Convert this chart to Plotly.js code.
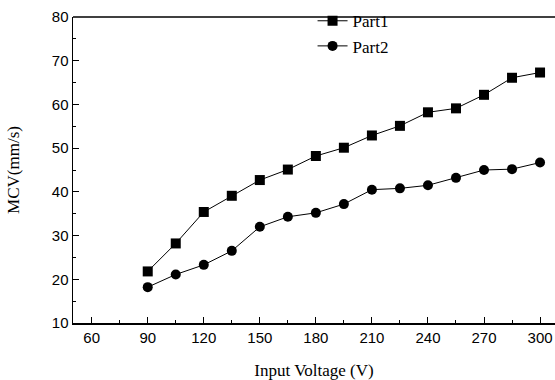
<!DOCTYPE html>
<html>
<head>
<meta charset="utf-8">
<script src="https://cdn.plot.ly/plotly-3.0.1.min.js"></script>
<style>html,body{margin:0;padding:0;background:#fff}#chart{width:555px;height:380px}</style>
</head>
<body>
<div id="chart"></div>
<script>
const voltage = [90,105,120,135,150,165,180,195,210,225,240,255,270,285,300];
const part1 = [21.8,28.2,35.4,39.1,42.7,45.1,48.2,50.1,52.9,55.1,58.2,59.1,62.2,66.1,67.3];
const part2 = [18.2,21.1,23.3,26.5,32.0,34.3,35.2,37.2,40.5,40.8,41.5,43.2,45.0,45.2,46.7];
const xTicks = [60,90,120,150,180,210,240,270,300];
const yTicks = [10,20,30,40,50,60,70,80];

const serif = 'Liberation Serif, Times New Roman, serif';
const sans = 'Liberation Sans, Arial, sans-serif';

const traces = [
  {x: voltage, y: part1, name: 'Part1', mode: 'lines+markers',
   line: {color: '#000', width: 1}, marker: {symbol: 'square', size: 10, color: '#000'}},
  {x: voltage, y: part2, name: 'Part2', mode: 'lines+markers',
   line: {color: '#000', width: 1}, marker: {symbol: 'circle', size: 10, color: '#000'}}
];

const layout = {
  width: 555, height: 380,
  margin: {l: 73, r: 0, t: 17, b: 57},
  paper_bgcolor: '#fff', plot_bgcolor: '#fff',
  showlegend: true,
  legend: {x: 0.497, y: 1.045, xanchor: 'left', yanchor: 'top', bgcolor: 'rgba(0,0,0,0)',
           font: {family: serif, size: 17, color: '#000'},
           tracegroupgap: 0, itemwidth: 30},
  xaxis: {
    range: [50, 308], tickvals: xTicks, ticktext: xTicks.map(String),
    ticks: 'inside', ticklen: 6, tickwidth: 1, tickcolor: '#000',
    minor: {dtick: 15, tick0: 0, ticks: 'inside', ticklen: 3, tickcolor: '#000'},
    showline: true, linecolor: '#000', linewidth: 1.5, mirror: false,
    showgrid: false, zeroline: false,
    tickfont: {family: sans, size: 15, color: '#000'},
    title: {text: 'Input Voltage (V)', standoff: 20,
            font: {family: serif, size: 17, color: '#000'}}
  },
  yaxis: {
    range: [10, 80], tickvals: yTicks, ticktext: yTicks.map(String),
    ticks: 'inside', ticklen: 6, tickwidth: 1, tickcolor: '#000',
    minor: {dtick: 5, tick0: 0, ticks: 'inside', ticklen: 3, tickcolor: '#000'},
    showline: true, linecolor: '#000', linewidth: 1.5,
    showgrid: false, zeroline: false,
    tickfont: {family: sans, size: 15, color: '#000'},
    title: {text: 'MCV(mm/s)', standoff: 28,
            font: {family: serif, size: 17, color: '#000'}}
  },
  shapes: [{type: 'line', xref: 'paper', yref: 'paper', x0: 0, x1: 1, y0: 1, y1: 1,
            line: {color: '#000', width: 1.5}}]
};

Plotly.newPlot('chart', traces, layout, {displayModeBar: false, staticPlot: true});
</script>
</body>
</html>
